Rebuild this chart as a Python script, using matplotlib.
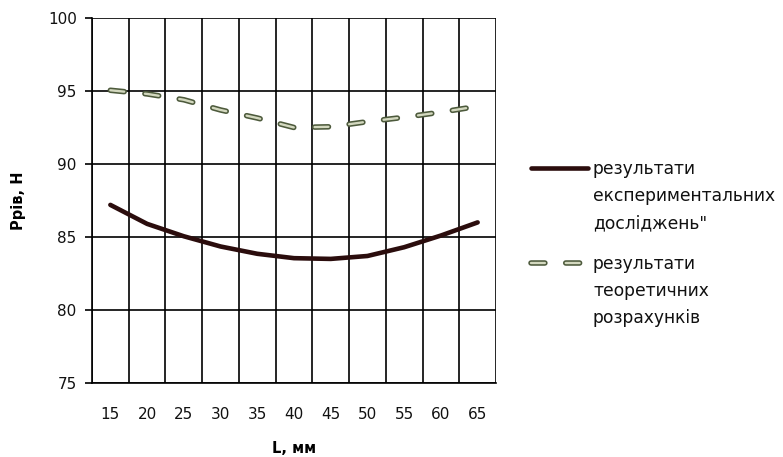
import matplotlib.pyplot as plt
from matplotlib.lines import Line2D
import numpy as np

plt.rcParams['font.family'] = ['DejaVu Sans']
plt.rcParams['lines.scale_dashes'] = False

# data
L_mm = [15, 20, 25, 30, 35, 40, 45, 50, 55, 60, 65]
experiment = [87.2, 85.9, 85.05, 84.35, 83.85, 83.55, 83.5, 83.7, 84.3, 85.1, 86.0]
theory = [95.05, 94.8, 94.4, 93.7, 93.15, 92.5, 92.55, 92.9, 93.2, 93.55, 93.95]
label_exp = "результати\nекспериментальних\nдосліджень\""
label_theory = "результати\nтеоретичних\nрозрахунків"

dark = '#2b0d0d'
dash_edge = '#4d5a3c'
dash_fill = '#d3d8bf'

fig = plt.figure(figsize=(7.83, 4.57), dpi=100)
ax = fig.add_axes([92/783, 1-383/457, 404/783, 365/457])

x = np.arange(len(L_mm))
ax.plot(x, experiment, color=dark, lw=3.3, solid_capstyle='round', zorder=4)
# hollow dashes: dark wide dash with a lighter thin dash on top
ax.plot(x, theory, color=dash_edge, lw=4.0, dashes=(10, 15), dash_capstyle='round', zorder=4)
ax.plot(x, theory, color=dash_fill, lw=1.7, dashes=(10, 15), dash_capstyle='round', zorder=5)

ax.set_xlim(-0.5, len(L_mm) - 0.5)
ax.set_ylim(75, 100)
ax.set_xticks(x)
ax.set_xticklabels([str(v) for v in L_mm])
ax.set_xticks(np.arange(-0.5, len(L_mm)), minor=True)
ax.set_yticks(np.arange(75, 101, 5))
ax.grid(which='minor', axis='x', color='black', lw=1.2)
ax.grid(which='major', axis='y', color='black', lw=1.2)
ax.tick_params(axis='x', which='both', length=0, pad=17, labelsize=11, labelcolor='#111111')
ax.tick_params(axis='y', length=5, width=1.2, pad=6, labelsize=11, labelcolor='#111111')
for s in ['top', 'right']:
    ax.spines[s].set_visible(False)
ax.spines['left'].set_linewidth(1.2)
ax.spines['bottom'].set_linewidth(1.2)

ax.set_xlabel("L, мм", fontsize=10.5, fontweight='bold', labelpad=14)
ax.set_ylabel("Ррів, Н", fontsize=10.5, fontweight='bold', labelpad=16)

# legend drawn by hand so the line sits next to the first text line
def fx(px):
    return px / 783
def fy(py):
    return 1 - py / 457

fig.add_artist(Line2D([fx(531), fx(588)], [fy(168), fy(168)], color=dark, lw=3.3,
                      solid_capstyle='round'))
fig.add_artist(Line2D([fx(531), fx(586)], [fy(263), fy(263)], color=dash_edge, lw=4.0,
                      dashes=(10, 15), dash_capstyle='round'))
fig.add_artist(Line2D([fx(531), fx(586)], [fy(263), fy(263)], color=dash_fill, lw=1.7,
                      dashes=(10, 15), dash_capstyle='round'))
fig.text(fx(593), fy(160), label_exp, fontsize=12.3, color='#111111', va='top', ha='left',
         linespacing=1.65)
fig.text(fx(593), fy(255), label_theory, fontsize=12.3, color='#111111', va='top', ha='left',
         linespacing=1.65)

fig.savefig('out.png', dpi=100, facecolor='white')
